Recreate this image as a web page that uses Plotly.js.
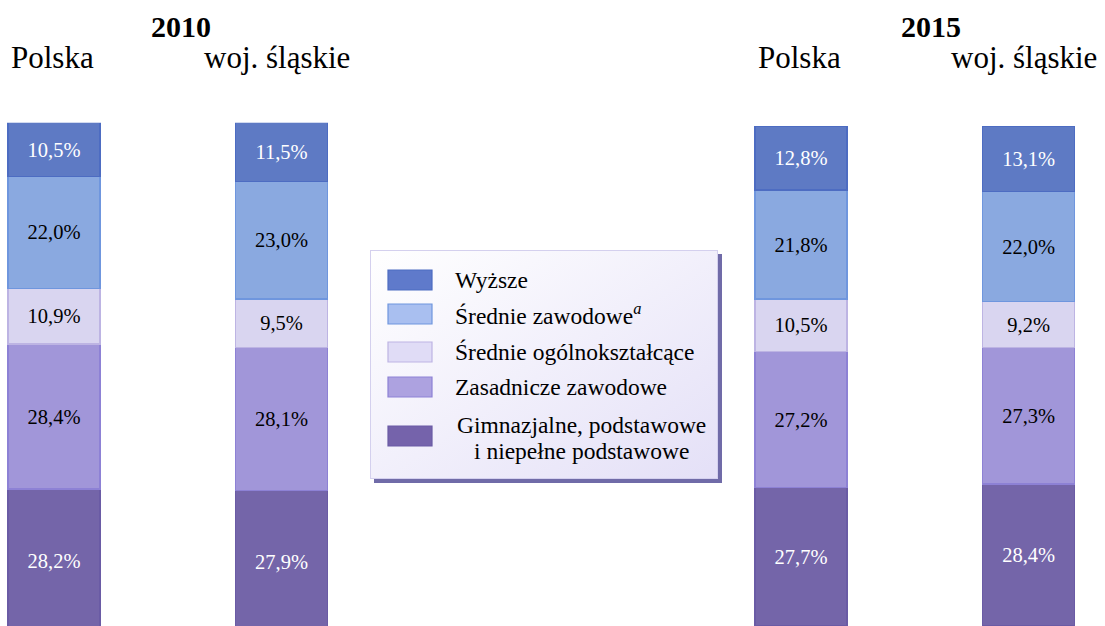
<!DOCTYPE html>
<html>
<head>
<meta charset="utf-8">
<script src="https://cdn.plot.ly/plotly-3.0.1.min.js"></script>
<style>
html,body{margin:0;padding:0;background:#fff;}
#chart{width:1105px;height:626px;}
#chart text{font-family:"Liberation Serif","Times New Roman",serif !important;}
</style>
</head>
<body>
<div id="chart"></div>
<script>
// ---- data ----
const categories = ['Polska', 'woj. śląskie'];
const years = ['2010', '2015'];
const seriesNames = [
  'Gimnazjalne, podstawowe<br>i niepełne podstawowe',
  'Zasadnicze zawodowe',
  'Średnie ogólnokształcące',
  'Średnie zawodowe<sup><i>a</i></sup>',
  'Wyższe'
];
// values per series (bottom to top), [Polska, woj. śląskie]
const gimn2010   = [28.2, 27.9];
const zasad2010  = [28.4, 28.1];
const srOgol2010 = [10.9, 9.5];
const srZaw2010  = [22.0, 23.0];
const wyzsze2010 = [10.5, 11.5];

const gimn2015   = [27.7, 28.4];
const zasad2015  = [27.2, 27.3];
const srOgol2015 = [10.5, 9.2];
const srZaw2015  = [21.8, 22.0];
const wyzsze2015 = [12.8, 13.1];

// ---- styles ----
const fills  = ['#7465a9', '#a196d9', '#d9d5f0', '#8aa9e0', '#5e7ac4'];
const lines  = ['#6a5ba5', '#8d81d5', '#bdb4e3', '#6f96de', '#4d6cc2'];
const txtCol = ['#ffffff', '#000000', '#000000', '#000000', '#ffffff'];
const legendFills = ['#7563ab', '#ada2e0', '#e0dcf6', '#a9bff0', '#5f7acb'];
const FONT = '"Liberation Serif", "Times New Roman", serif';

const W = 1105, H = 626;
const px = v => v / W;
const py = v => 1 - v / H;

const data2010 = [gimn2010, zasad2010, srOgol2010, srZaw2010, wyzsze2010];
const data2015 = [gimn2015, zasad2015, srOgol2015, srZaw2015, wyzsze2015];

const traces = [];
[data2010, data2015].forEach((set, k) => {
  set.forEach((vals, i) => {
    traces.push({
      type: 'bar',
      x: categories,
      y: vals,
      name: seriesNames[i],
      xaxis: k === 0 ? 'x' : 'x2',
      yaxis: k === 0 ? 'y' : 'y2',
      width: 0.404,
      marker: {color: fills[i], line: {color: lines[i], width: 1.5}},
      texttemplate: '%{y:.1f}%',
      textposition: 'inside',
      insidetextanchor: 'middle',
      textangle: 0,
      constraintext: 'none',
      textfont: {family: FONT, size: 20.5, color: txtCol[i]},
      hoverinfo: 'skip',
      showlegend: false
    });
  });
});

const hidden = {showgrid: false, zeroline: false, showticklabels: false, showline: false, ticks: '', fixedrange: true};

const annotations = [];
const yearCenters = [181, 931];
years.forEach((yr, k) => {
  annotations.push({
    xref: 'paper', yref: 'paper', x: px(yearCenters[k]), y: py(27),
    xanchor: 'center', yanchor: 'middle', showarrow: false,
    text: '<b>' + yr + '</b>', font: {family: FONT, size: 30, color: '#000'}
  });
  categories.forEach((c, j) => {
    annotations.push({
      xref: k === 0 ? 'x' : 'x2', yref: 'paper', x: c, y: py(57),
      xshift: j === 0 ? -2 : -5,
      xanchor: 'center', yanchor: 'middle', showarrow: false,
      text: c, font: {family: FONT, size: 31, color: '#000'}
    });
  });
});

// custom legend (rows top to bottom)
const legRowY = [280, 314, 352, 387, 436];
const legTextX = 453, legTwoLineCenterX = 581, legLineGap = 26;
const shapes = [];
for (let r = 0; r < 5; r++) {
  const i = 4 - r;
  shapes.push({
    type: 'rect', xref: 'paper', yref: 'paper', layer: 'above',
    x0: px(388), x1: px(432), y0: py(legRowY[r] - 10), y1: py(legRowY[r] + 10),
    fillcolor: legendFills[i], line: {color: lines[i], width: 1.2}
  });
  const parts = seriesNames[i].split('<br>');
  parts.forEach((t, p) => {
    const multi = parts.length > 1;
    annotations.push({
      xref: 'paper', yref: 'paper',
      x: px(multi ? legTwoLineCenterX : legTextX),
      y: py(legRowY[r] + (p - (parts.length - 1) / 2) * legLineGap + (multi ? 2 : 0)),
      xanchor: multi ? 'center' : 'left', yanchor: 'middle', showarrow: false,
      text: t, font: {family: FONT, size: 23.5, color: '#000'}
    });
  });
}

const svg = '<svg xmlns="http://www.w3.org/2000/svg" width="352" height="233" viewBox="0 0 352 233" preserveAspectRatio="none">' +
  '<defs><linearGradient id="g" x1="0" y1="0" x2="1" y2="1">' +
  '<stop offset="0" stop-color="#ffffff"/><stop offset="1" stop-color="#e4e0f7"/></linearGradient></defs>' +
  '<rect x="4" y="4" width="348" height="229" fill="#706ba8"/>' +
  '<rect x="0.5" y="0.5" width="347" height="228" fill="url(#g)" stroke="#d4d0ee" stroke-width="1"/>' +
  '</svg>';

const layout = {
  width: W, height: H,
  margin: {l: 0, r: 0, t: 0, b: 0, pad: 0},
  paper_bgcolor: '#fff', plot_bgcolor: 'rgba(0,0,0,0)',
  barmode: 'stack',
  separators: ',.',
  showlegend: false,
  xaxis: Object.assign({domain: [0, px(380)], range: [-54 / 227.5, -54 / 227.5 + 380 / 227.5], type: 'category'}, hidden),
  yaxis: Object.assign({domain: [0, (H - 122.7) / H], range: [1.4, 100]}, hidden),
  xaxis2: Object.assign({domain: [px(700), 1], range: [-101 / 227.6, -101 / 227.6 + 405 / 227.6], type: 'category', anchor: 'y2'}, hidden),
  yaxis2: Object.assign({domain: [0, (H - 126) / H], range: [0, 100], anchor: 'x2'}, hidden),
  images: [{
    source: 'data:image/svg+xml;charset=utf-8,' + encodeURIComponent(svg),
    xref: 'paper', yref: 'paper', x: px(370), y: py(250),
    sizex: px(352), sizey: 233 / H, sizing: 'stretch',
    xanchor: 'left', yanchor: 'top', layer: 'above'
  }],
  shapes: shapes,
  annotations: annotations,
  font: {family: FONT}
};

Plotly.newPlot('chart', traces, layout, {displayModeBar: false, staticPlot: true});
</script>
</body>
</html>
